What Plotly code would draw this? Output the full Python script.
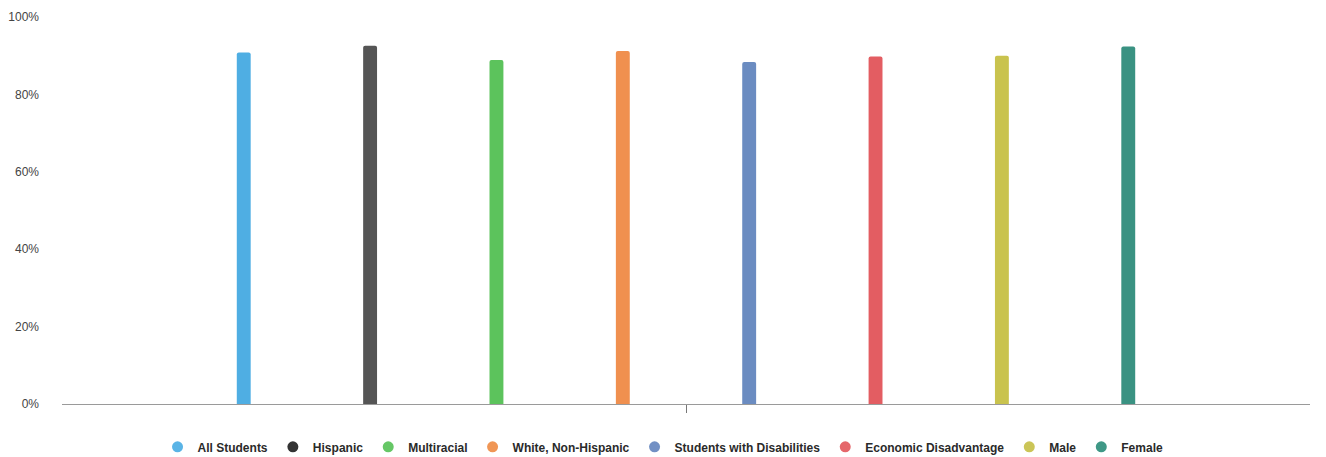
import plotly.graph_objects as go

categories = [""]
series_names = ["All Students", "Hispanic", "Multiracial", "White, Non-Hispanic",
                "Students with Disabilities", "Economic Disadvantage", "Male", "Female"]
series_values = [0.908, 0.926, 0.889, 0.912, 0.884, 0.898, 0.900, 0.924]
series_colors = ["#4faee3", "#555555", "#5cc35c", "#f0904f", "#6b8cc1", "#e35d62", "#c9c34e", "#3a9282"]
legend_colors = ["#5ab4e6", "#333333", "#66c766", "#f09655", "#7290c4", "#e5676b", "#cbc557", "#3f9886"]
tick_vals = [0, 0.2, 0.4, 0.6, 0.8, 1.0]
tick_text = ["0%", "20%", "40%", "60%", "80%", "100%"]

fig = go.Figure()
for name, val, col in zip(series_names, series_values, series_colors):
    fig.add_trace(go.Bar(x=categories, y=[val], name=name, marker=dict(color=col, line=dict(width=0)),
                         showlegend=False, legendgroup=name))
for name, col in zip(series_names, legend_colors):
    fig.add_trace(go.Scatter(x=[None], y=[None], mode="markers", name=name, legendgroup=name,
                             marker=dict(symbol="circle", size=11, color=col)))

fig.update_layout(
    width=1326, height=457,
    margin=dict(l=54, r=24, t=9, b=61, autoexpand=False),
    paper_bgcolor="white", plot_bgcolor="white",
    font=dict(family="Liberation Sans, Arial, sans-serif", size=11, color="#444444"),
    barmode="group", bargap=0.19, bargroupgap=0.89, barcornerradius=2,
    showlegend=True,
    legend=dict(orientation="h", xref="container", x=0.494, xanchor="center",
                yref="container", y=0.008, yanchor="bottom",
                font=dict(size=12, color="#2a2a2a", weight="bold"), itemwidth=30, tracegroupgap=0),
    xaxis=dict(showline=True, linecolor="#9a9a9a", linewidth=1, ticks="outside", ticklen=8,
               tickcolor="#777777", showgrid=False, showticklabels=False, zeroline=False,
               automargin=False),
    yaxis=dict(range=[0, 1.0], tickvals=tick_vals, ticktext=tick_text, showgrid=False,
               zeroline=False, showline=False, ticklabelstandoff=22, automargin=False,
               tickfont=dict(size=12, color="#444444")),
)

fig.write_html("out.html")
